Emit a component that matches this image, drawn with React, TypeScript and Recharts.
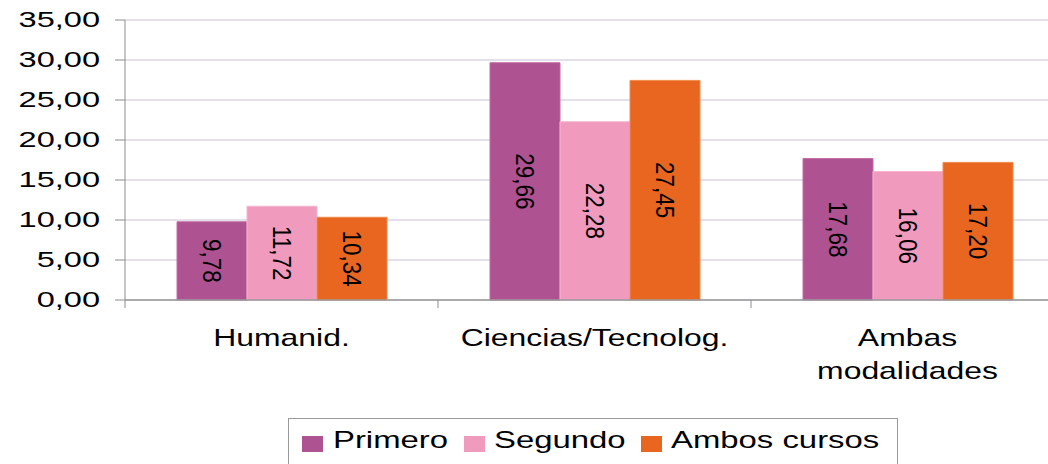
import React from 'react';
import { BarChart, Bar, XAxis, YAxis, CartesianGrid, Legend, LabelList } from 'recharts';

// Categories and series values
const categories = ['Humanid.', 'Ciencias/Tecnolog.', 'Ambas\nmodalidades'];
const primero = [9.78, 29.66, 17.68];
const segundo = [11.72, 22.28, 16.06];
const ambosCursos = [10.34, 27.45, 17.2];
const yTicks = [0, 5, 10, 15, 20, 25, 30, 35];

const seriesNames = ['Primero', 'Segundo', 'Ambos cursos'];
const seriesColors = ['#AF5291', '#F09ABD', '#E96620'];
const seriesStrokes = ['#C06CA4', '#F5B5CF', '#F08A4E'];

const data = categories.map((name, i) => ({
  name,
  primero: primero[i],
  segundo: segundo[i],
  ambos: ambosCursos[i],
}));

const CHART_WIDTH = 1064;
const CHART_HEIGHT = 464;
const Y_AXIS_WIDTH = 125;
const BAND = (CHART_WIDTH - Y_AXIS_WIDTH) / categories.length;
const FONT = "'Liberation Sans', Arial, sans-serif";

const fmt = (v: number) => v.toFixed(2).replace('.', ',');

const YTick = (props: any) => {
  const { x, y, payload } = props;
  return (
    <g transform={`translate(${x},${y})`}>
      <text
        transform="scale(1.48,1)"
        textAnchor="end"
        dy="0.33em"
        fontSize={22}
        fontFamily={FONT}
        fill="#000"
      >
        {fmt(payload.value)}
      </text>
    </g>
  );
};

const XTick = (props: any) => {
  const { x, y, payload } = props;
  const lines = String(payload.value).split('\n');
  const left = x - BAND / 2;
  return (
    <g>
      <line x1={left} y1={y - 8} x2={left} y2={y} stroke="#8c8c8c" strokeWidth={1} />
      {lines.map((line, i) => (
        <g key={i} transform={`translate(${x},${y + 38 + i * 33})`}>
          <text transform="scale(1.33,1)" textAnchor="middle" fontSize={24} fontFamily={FONT} fill="#000">
            {line}
          </text>
        </g>
      ))}
    </g>
  );
};

// Value printed down the middle of each bar, rotated a quarter turn clockwise
const BarValue = (props: any) => {
  const { x, y, width, height, value } = props;
  const cx = x + width / 2;
  const cy = y + height / 2;
  return (
    <g transform={`translate(${cx},${cy}) scale(1.15,1) rotate(90)`}>
      <text
        x={0}
        y={0}
        textAnchor="middle"
        dominantBaseline="central"
        fontSize={22.5}
        fontFamily={FONT}
        fill="#000"
      >
        {fmt(Number(value))}
      </text>
    </g>
  );
};

// Legend item layout inside the framed box
const legendSquareX = [13, 175, 352];
const legendTextX = [44, 205, 382];

const LegendBox = () => (
  <div
    style={{
      width: 610,
      height: 50,
      border: '1px solid #9a9a9a',
      boxSizing: 'border-box',
      background: '#fff',
    }}
  >
    <svg width={608} height={48} style={{ display: 'block' }}>
      {seriesNames.map((n, i) => (
        <g key={n}>
          <rect x={legendSquareX[i]} y={17} width={21} height={16} fill={seriesColors[i]} />
          <g transform={`translate(${legendTextX[i]},28.5)`}>
            <text transform="scale(1.43,1)" fontSize={23} fontFamily={FONT} fill="#000">
              {n}
            </text>
          </g>
        </g>
      ))}
    </svg>
  </div>
);

export default function App() {
  return (
    <div
      style={{
        position: 'fixed',
        left: 0,
        top: 0,
        width: 1048,
        height: 464,
        overflow: 'hidden',
        background: '#fff',
      }}
    >
      <BarChart
        width={CHART_WIDTH}
        height={CHART_HEIGHT}
        data={data}
        margin={{ top: 20, right: 0, left: 0, bottom: 0 }}
        barCategoryGap={52}
        barGap={0}
      >
        <CartesianGrid vertical={false} stroke="#DAD6E6" strokeWidth={1.5} />
        <XAxis
          dataKey="name"
          height={164}
          axisLine={{ stroke: '#999', strokeWidth: 1.5 }}
          tickLine={false}
          tickSize={8}
          tickMargin={0}
          tick={<XTick />}
          interval={0}
        />
        <YAxis
          width={Y_AXIS_WIDTH}
          domain={[0, 35]}
          ticks={yTicks}
          interval={0}
          axisLine={{ stroke: '#8c8c8c' }}
          tickLine={{ stroke: '#8c8c8c' }}
          tickSize={10}
          tickMargin={15}
          tick={<YTick />}
        />
        <Legend
          layout="horizontal"
          verticalAlign="middle"
          align="center"
          content={<LegendBox />}
          wrapperStyle={{ left: 288, top: 418, width: 610, height: 50 }}
        />
        <Bar dataKey="primero" name={seriesNames[0]} fill={seriesColors[0]} stroke={seriesStrokes[0]} strokeWidth={1} isAnimationActive={false}>
          <LabelList dataKey="primero" content={<BarValue />} />
        </Bar>
        <Bar dataKey="segundo" name={seriesNames[1]} fill={seriesColors[1]} stroke={seriesStrokes[1]} strokeWidth={1} isAnimationActive={false}>
          <LabelList dataKey="segundo" content={<BarValue />} />
        </Bar>
        <Bar dataKey="ambos" name={seriesNames[2]} fill={seriesColors[2]} stroke={seriesStrokes[2]} strokeWidth={1} isAnimationActive={false}>
          <LabelList dataKey="ambos" content={<BarValue />} />
        </Bar>
      </BarChart>
    </div>
  );
}
